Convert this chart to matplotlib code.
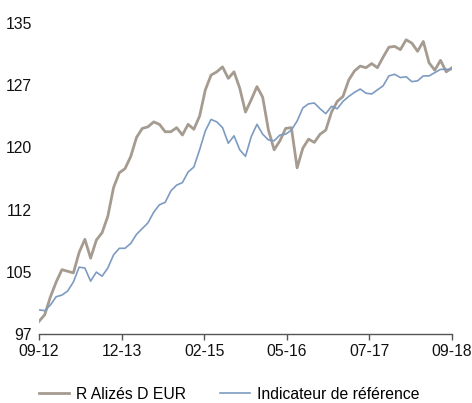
import numpy as np
import matplotlib.pyplot as plt

plt.rcParams['font.family'] = ['Liberation Sans', 'DejaVu Sans']

# Monthly values, 09-2012 -> 09-2018
fund = [98.6, 99.4, 101.6, 103.4, 104.9, 104.7, 104.5, 107.0, 108.6, 106.3,
        108.5, 109.4, 111.4, 114.9, 116.7, 117.2, 118.7, 121.0, 122.1, 122.3,
        122.9, 122.6, 121.7, 121.7, 122.2, 121.3, 122.6, 122.0, 123.6, 126.8,
        128.6, 129.0, 129.6, 128.2, 129.0, 127.0, 124.1, 125.6, 127.2, 125.9,
        121.9, 119.5, 120.6, 122.1, 122.2, 117.3, 119.7, 120.8, 120.4, 121.4,
        121.9, 124.1, 125.4, 126.0, 128.0, 129.1, 129.7, 129.5, 130.0, 129.5,
        130.8, 132.0, 132.1, 131.7, 132.9, 132.5, 131.5, 132.7, 130.1, 129.2,
        130.4, 129.0, 129.5]
bench = [100.0, 99.9, 100.6, 101.6, 101.8, 102.3, 103.4, 105.2, 105.1, 103.5,
         104.6, 104.1, 105.1, 106.7, 107.5, 107.5, 108.1, 109.2, 109.9, 110.6,
         111.9, 112.8, 113.1, 114.5, 115.2, 115.5, 116.8, 117.4, 119.5, 121.8,
         123.2, 122.9, 122.2, 120.3, 121.2, 119.5, 118.7, 121.1, 122.6, 121.4,
         120.7, 120.6, 121.3, 121.4, 121.9, 123.0, 124.6, 125.1, 125.2, 124.5,
         123.9, 124.8, 124.5, 125.4, 126.0, 126.5, 126.9, 126.4, 126.3, 126.8,
         127.3, 128.5, 128.7, 128.3, 128.4, 127.8, 127.9, 128.5, 128.5, 128.9,
         129.3, 129.3, 129.3]
x_labels = ['09-12', '12-13', '02-15', '05-16', '07-17', '09-18']
y_labels = ['97', '105', '112', '120', '127', '135']

months = np.arange(len(fund))
fs = 11.3

fig = plt.figure(figsize=(4.72, 4.03), dpi=100)
ax = fig.add_axes([0.0826, 0.170, 0.875, 0.774])

ax.plot(months, fund, color='#a59b90', lw=2.0, label='R Alizés D EUR')
ax.plot(months, bench, color='#7d9bc1', lw=1.2, label='Indicateur de référence')

ax.set_xlim(0, 72)
ax.set_ylim(97, 135)
ax.set_xticks(np.linspace(0, 72, 6))
ax.set_xticklabels(x_labels)
ax.set_yticks(np.linspace(97, 135, 6))
ax.set_yticklabels(y_labels)

for s in ['top', 'right', 'left']:
    ax.spines[s].set_visible(False)
ax.spines['bottom'].set_color('#555555')
ax.spines['bottom'].set_linewidth(1.0)
ax.tick_params(axis='x', length=4, width=1, color='#555555', pad=3,
               labelsize=fs, labelcolor='#111111')
ax.tick_params(axis='y', length=0, pad=5, labelsize=fs, labelcolor='#111111')

fig.legend(loc='center', bbox_to_anchor=(0.486, 0.022), ncol=2,
           frameon=False, fontsize=fs, handlelength=1.9, columnspacing=2.2,
           handletextpad=0.45)

fig.savefig('out.png', dpi=100)
